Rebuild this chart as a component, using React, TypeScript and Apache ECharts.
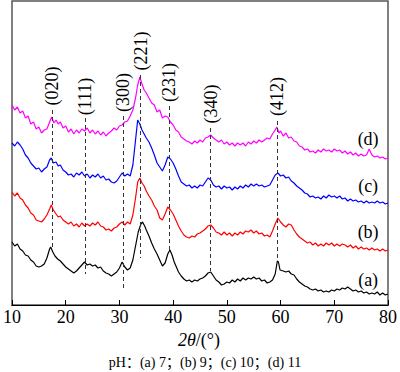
import React, { useEffect, useRef } from "react";
import * as echarts from "echarts";

// XRD intensity (arbitrary units, offset traces), [2θ, intensity]
const seriesA: [number, number][] = [[10,63],[10.5,59],[11,61],[11.5,56],[12,54],[12.5,50],[13,49],[13.5,45],[14,43],[14.5,39],[15,38],[15.5,39],[16,41],[16.5,47],[17,56],[17.2,58],[17.6,53],[18,49],[18.5,46],[19,44],[19.5,41],[20,38],[20.5,36],[21,34],[21.5,32],[22,34],[22.5,37],[23,40],[23.5,43],[24,40],[24.5,41],[25,39],[25.5,40],[26,37],[26.5,38],[27,34],[27.5,32],[28,31],[28.5,29],[29,31],[29.5,33],[30,37],[30.5,43],[31,38],[31.5,35],[32,37],[32.5,45],[33,59],[33.5,73],[34,81],[34.3,83],[34.7,79],[35,75],[35.5,69],[36,62],[36.5,56],[37,51],[37.5,45],[38,39],[38.5,42],[39,51],[39.4,55],[39.8,50],[40.2,43],[40.6,38],[41,33],[41.5,29],[42,26],[42.5,24],[43,25],[43.5,23],[44,25],[44.5,24],[45,26],[45.5,27],[46,29],[46.5,32],[47,33],[47.5,29],[48,25],[48.5,23],[49,20],[49.5,21],[50,23],[50.5,22],[51,25],[51.5,23],[52,26],[52.5,24],[53,27],[53.5,25],[54,27],[54.5,26],[55,28],[55.5,26],[56,27],[56.5,24],[57,25],[57.5,22],[58,23],[58.5,25],[59,31],[59.4,44],[59.6,43],[59.9,35],[60.5,34],[61,33],[61.5,34],[62,31],[62.5,30],[63,26],[63.5,23],[64,21],[64.5,19],[65,18],[65.5,16],[66,15],[66.5,16],[67,14],[67.5,15],[68,13],[68.5,14],[69,13],[69.5,15],[70,14],[70.5,16],[71,15],[71.5,17],[72,16],[72.5,18],[73,16],[73.5,14],[74,15],[74.5,13],[75,14],[75.5,12],[76,13],[76.5,11],[77,12],[77.5,11],[78,13],[78.5,10],[79,12],[79.5,10],[80,11]];

const seriesB: [number, number][] = [[10,113],[10.5,109],[11,112],[11.5,107],[12,105],[12.5,100],[13,97],[13.5,92],[14,90],[14.5,85],[15,84],[15.5,83],[16,86],[16.5,90],[17,96],[17.3,100],[17.7,95],[18.2,91],[18.6,88],[19,89],[19.5,85],[20,83],[20.5,81],[21,83],[21.5,79],[22,81],[22.5,78],[23,82],[23.5,79],[24,81],[24.5,79],[25,82],[25.5,80],[26,83],[26.5,79],[27,78],[27.5,75],[28,76],[28.5,74],[29,77],[29.5,78],[30,81],[30.5,83],[31,80],[31.5,83],[32,81],[32.5,90],[33,107],[33.4,123],[33.8,127],[34.2,122],[34.6,119],[35,114],[35.5,109],[36,105],[36.5,99],[37,95],[37.5,87],[38,85],[38.5,91],[39,98],[39.5,95],[40,91],[40.5,85],[41,79],[41.5,74],[42,70],[42.5,68],[43,67],[43.5,69],[44,68],[44.5,71],[45,72],[45.5,74],[46,76],[46.5,79],[47,80],[47.5,77],[48,73],[48.5,72],[49,70],[49.5,73],[50,70],[50.5,72],[51,69],[51.5,72],[52,70],[52.5,73],[53,71],[53.5,74],[54,73],[54.5,75],[55,72],[55.5,74],[56,71],[56.5,72],[57,69],[57.5,70],[58,68],[58.5,74],[59,81],[59.5,87],[60,83],[60.5,80],[61,78],[61.5,81],[62,80],[62.5,75],[63,71],[63.5,68],[64,66],[64.5,64],[65,62],[65.5,63],[66,60],[66.5,62],[67,59],[67.5,61],[68,59],[68.5,62],[69,60],[69.5,62],[70,59],[70.5,61],[71,59],[71.5,61],[72,60],[72.5,58],[73,60],[73.5,57],[74,59],[74.5,56],[75,58],[75.5,56],[76,57],[76.5,55],[77,57],[77.5,55],[78,56],[78.5,54],[79,56],[79.5,54],[80,55]];

const seriesC: [number, number][] = [[10,162],[10.5,159],[11,163],[11.5,160],[12,156],[12.5,150],[13,147],[13.5,142],[14,139],[14.5,136],[15,137],[15.5,133],[16,136],[16.5,138],[17,145],[17.3,147],[17.7,142],[18.2,143],[18.6,139],[19,140],[19.5,135],[20,133],[20.5,130],[21,131],[21.5,128],[22,132],[22.5,130],[23,133],[23.5,129],[24,131],[24.5,127],[25,130],[25.5,128],[26,131],[26.5,127],[27,129],[27.5,125],[28,126],[28.5,123],[29,122],[29.5,124],[30,128],[30.5,132],[31,129],[31.5,131],[32,129],[32.5,140],[33,165],[33.4,185],[33.8,181],[34.2,175],[34.6,171],[35,167],[35.5,163],[36,157],[36.5,150],[37,142],[37.5,138],[38,134],[38.5,140],[39,148],[39.5,146],[40,142],[40.5,136],[41,129],[41.5,123],[42,121],[42.5,119],[43,120],[43.5,117],[44,119],[44.5,117],[45,120],[45.5,119],[46,123],[46.5,127],[47,125],[47.5,120],[48,118],[48.5,119],[49,116],[49.5,119],[50,117],[50.5,118],[51,115],[51.5,118],[52,116],[52.5,119],[53,117],[53.5,120],[54,118],[54.5,121],[55,119],[55.5,121],[56,119],[56.5,120],[57,118],[57.5,119],[58,120],[58.5,125],[59,130],[59.5,132],[60,129],[60.5,130],[61,127],[61.5,128],[62,124],[62.5,122],[63,119],[63.5,117],[64,115],[64.5,112],[65,111],[65.5,108],[66,109],[66.5,107],[67,108],[67.5,106],[68,109],[68.5,107],[69,110],[69.5,108],[70,109],[70.5,107],[71,109],[71.5,106],[72,107],[72.5,104],[73,106],[73.5,104],[74,105],[74.5,103],[75,104],[75.5,102],[76,104],[76.5,102],[77,103],[77.5,102],[78,104],[78.5,102],[79,103],[79.5,101],[80,102]];

const seriesD: [number, number][] = [[10,200],[10.5,195],[11,198],[11.5,192],[12,194],[12.5,187],[13,189],[13.5,181],[14,183],[14.5,176],[15,178],[15.5,172],[16,175],[16.5,176],[17,183],[17.4,188],[17.8,182],[18.2,185],[18.6,181],[19,183],[19.5,177],[20,179],[20.5,173],[21,176],[21.5,171],[22,175],[22.5,172],[23,176],[23.5,174],[24,177],[24.5,172],[25,175],[25.5,171],[26,174],[26.5,170],[27,173],[27.5,169],[28,172],[28.5,174],[29,177],[29.5,175],[30,179],[30.5,180],[31,183],[31.5,184],[32,189],[32.5,195],[33,207],[33.4,220],[33.8,228],[34.2,221],[34.6,215],[35,212],[35.5,207],[36,202],[36.5,200],[37,193],[37.5,195],[38,187],[38.5,189],[39,188],[39.5,183],[40,180],[40.5,175],[41,173],[41.5,168],[42,166],[42.5,164],[43,163],[43.5,161],[44,164],[44.5,162],[45,165],[45.5,163],[46,167],[46.5,168],[47,170],[47.5,167],[48,165],[48.5,163],[49,165],[49.5,161],[50,163],[50.5,160],[51,162],[51.5,159],[52,162],[52.5,160],[53,162],[53.5,159],[54,163],[54.5,161],[55,164],[55.5,162],[56,165],[56.5,163],[57,165],[57.5,167],[58,166],[58.5,171],[59,175],[59.3,178],[59.7,172],[60,174],[60.5,169],[61,172],[61.5,167],[62,168],[62.5,164],[63,163],[63.5,159],[64,158],[64.5,155],[65,156],[65.5,153],[66,154],[66.5,152],[67,155],[67.5,153],[68,156],[68.5,154],[69,155],[69.5,153],[70,156],[70.5,154],[71,155],[71.5,152],[72,154],[72.5,151],[73,153],[73.5,150],[74,152],[74.5,149],[75,151],[75.5,149],[76,150],[76.5,156],[77,150],[77.5,148],[78,149],[78.5,147],[79,148],[79.5,146],[80,147]];

// Peak indexing
const peakNames = ["(020)", "(111)", "(300)", "(221)", "(231)", "(340)", "(412)"];
const peakTheta = [17.45, 23.56, 30.7, 33.95, 39.26, 47.0, 59.4];
const peakLineTop = [195, 187, 189, 230, 199, 177, 184];
const peakLineBottom = [57, 31, 16, 47, 55, 34, 47];
// centre of each rotated label, in intensity units
const peakLabelMid = [219, 208.5, 212.5, 254, 222.5, 201, 208.5];

const xTicks = { min: 10, max: 80, interval: 10 };
const traceNames = ["(a)", "(b)", "(c)", "(d)"];
const traceColors = ["#000000", "#ff0000", "#0000ff", "#ff00ff"];
// label anchor for each trace name: [2θ, intensity]
const traceLabelPos: [number, number][] = [[76.3, 25], [76.3, 73], [76.3, 119], [76.3, 166]];
const axisTitle = "2θ";
const axisUnit = "/(°)";
const caption = "pH：(a) 7；(b) 9；(c) 10；(d) 11";

const SERIF = "Liberation Serif";
const CAPTION_FONT = "Liberation Serif, Noto Sans CJK SC";

export default function App() {
  const ref = useRef<HTMLDivElement>(null);
  useEffect(() => {
    if (!ref.current) return;
    const chart = echarts.init(ref.current, undefined, { renderer: "svg" });
    const traces = [seriesA, seriesB, seriesC, seriesD];
    const option: any = {
      animation: false,
      backgroundColor: "#ffffff",
      grid: {
        left: 8,
        right: 10,
        top: 1,
        bottom: 67,
        show: true,
        borderColor: "#555",
        borderWidth: 1.5,
        backgroundColor: "transparent",
      },
      xAxis: {
        type: "value",
        min: xTicks.min,
        max: xTicks.max,
        interval: xTicks.interval,
        axisLine: { show: true, lineStyle: { color: "#000", width: 1.2 } },
        axisTick: { show: true, inside: true, length: 5, lineStyle: { color: "#000" } },
        axisLabel: { color: "#000", fontSize: 18, fontFamily: SERIF, margin: 3 },
        splitLine: { show: false },
      },
      yAxis: {
        type: "value",
        min: 0,
        max: 304,
        show: false,
        splitLine: { show: false },
      },
      series: [
        ...traces.map((d, i) => ({
          type: "line",
          name: traceNames[i],
          data: d,
          showSymbol: false,
          symbol: "none",
          lineStyle: { color: traceColors[i], width: 1.2 },
          z: 2,
        })),
        {
          type: "scatter",
          name: "peaks",
          symbolSize: 0,
          itemStyle: { color: "rgba(0,0,0,0)" },
          z: 5,
          data: peakTheta.map((t, i) => [t, peakLabelMid[i]]),
          markLine: {
            silent: true,
            symbol: "none",
            label: { show: false },
            lineStyle: { color: "#333", width: 1, type: [4, 3] },
            data: peakNames.map((_, i) => [
              { coord: [peakTheta[i], peakLineTop[i]] },
              { coord: [peakTheta[i], peakLineBottom[i]] },
            ]),
          },
        },
      ],
    };
    chart.setOption(option);

    const toPx = (p: [number, number]) => chart.convertToPixel({ gridIndex: 0 }, p) as number[];
    const peakTexts = peakNames.map((n, i) => {
      const [x, y] = toPx([peakTheta[i], peakLabelMid[i]]);
      return {
        type: "text",
        x,
        y,
        rotation: Math.PI / 2,
        z: 10,
        style: {
          text: n,
          fill: "#000",
          fontSize: 18,
          fontFamily: SERIF,
          align: "center",
          verticalAlign: "middle",
        },
      };
    });
    const traceTexts = traceNames.map((n, i) => {
      const [x, y] = toPx(traceLabelPos[i]);
      return {
        type: "text",
        x,
        y,
        z: 10,
        style: {
          text: n,
          fill: "#000",
          fontSize: 18,
          fontFamily: SERIF,
          align: "center",
          verticalAlign: "middle",
        },
      };
    });
    chart.setOption({
      graphic: [
        ...peakTexts,
        ...traceTexts,
        {
          type: "text",
          x: 199,
          y: 340,
          style: {
            text: `{i|${axisTitle}}{n|${axisUnit}}`,
            fill: "#000",
            align: "center",
            verticalAlign: "middle",
            rich: {
              i: { fontStyle: "italic", fontSize: 18, fontFamily: SERIF, fill: "#000" },
              n: { fontSize: 18, fontFamily: SERIF, fill: "#000" },
            },
          },
        },
        {
          type: "text",
          x: 205,
          y: 362,
          style: {
            text: caption,
            fill: "#000",
            fontSize: 14,
            fontFamily: CAPTION_FONT,
            align: "center",
            verticalAlign: "middle",
          },
        },
      ],
    });
    return () => chart.dispose();
  }, []);
  return (
    <div
      ref={ref}
      style={{ position: "fixed", left: 0, top: 0, width: 400, height: 372, background: "#fff" }}
    />
  );
}
